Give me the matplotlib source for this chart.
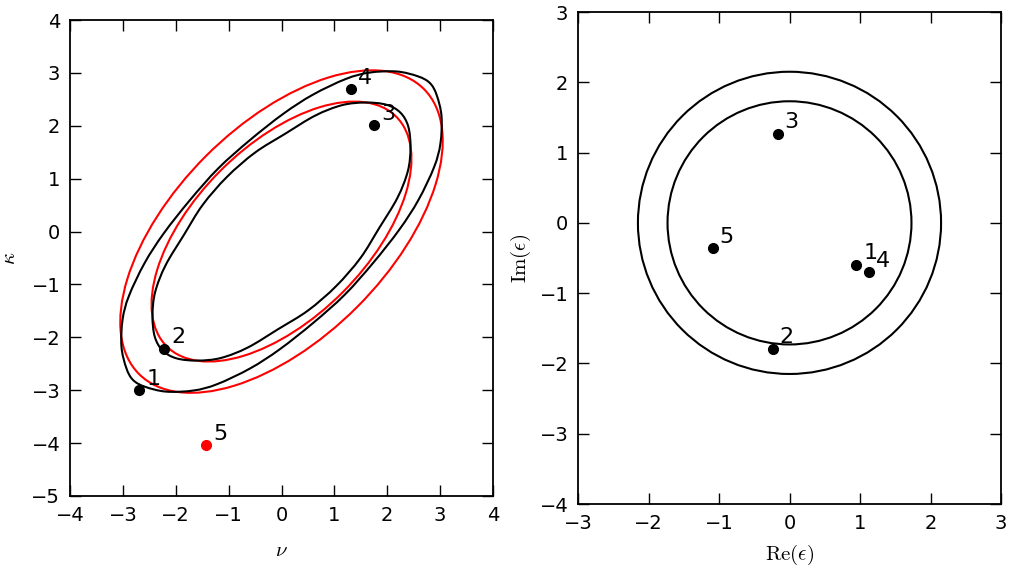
import numpy as np
import matplotlib.pyplot as plt
from matplotlib.patches import Ellipse, Circle, PathPatch
from matplotlib.path import Path
from matplotlib.transforms import Affine2D

plt.rcParams['mathtext.fontset'] = 'cm'
plt.rcParams['font.family'] = ['DejaVu Sans']
plt.rcParams['font.size'] = 14

# ---- left panel: (nu, kappa) plane ----
point_labels = ['1', '2', '3', '4', '5']
nu = [-2.69, -2.22, 1.75, 1.31, -1.43]
kappa = [-3.00, -2.22, 2.01, 2.69, -4.04]
point_colors = ['k', 'k', 'k', 'k', 'r']

# red ellipses, semi-axes along the diagonal / anti-diagonal
ell_major = [3.07, 3.81]
ell_minor = [1.63, 2.02]
tilt = 45

# black contours in the tilted frame
# (along = distance along the diagonal, across = distance across it)
outer_along = [3.97, 3.9, 3.68, 3.3, 2.9, 2.25, 1.6, 0.8, 0, -0.8, -1.6, -2.25, -2.9,
               -3.3, -3.68, -3.9, -3.97, -3.9, -3.68, -3.3, -2.9, -2.25, -1.6, -0.8,
               0, 0.8, 1.6, 2.25, 2.9, 3.3, 3.68, 3.9]
outer_across = [0, 0.25, 0.6, 0.95, 1.18, 1.41, 1.55, 1.645, 1.69, 1.645, 1.55, 1.41, 1.18,
                0.95, 0.6, 0.25, 0, -0.25, -0.6, -0.95, -1.18, -1.41, -1.55, -1.645,
                -1.69, -1.645, -1.55, -1.41, -1.18, -0.95, -0.6, -0.25]
inner_along = [3.18, 3.1, 2.85, 2.5, 2.0, 1.35, 0.7, 0, -0.7, -1.35, -2.0, -2.5, -2.85,
               -3.1, -3.18, -3.1, -2.85, -2.5, -2.0, -1.35, -0.7, 0, 0.7, 1.35, 2.0,
               2.5, 2.85, 3.1]
inner_across = [0, 0.29, 0.6, 0.88, 1.10, 1.26, 1.41, 1.46, 1.41, 1.26, 1.10, 0.88, 0.6,
                0.29, 0, -0.29, -0.6, -0.88, -1.10, -1.26, -1.41, -1.46, -1.41, -1.26,
                -1.10, -0.88, -0.6, -0.29]

# ---- right panel: complex epsilon plane ----
re_eps = [0.95, -0.24, -0.17, 1.13, -1.09]
im_eps = [-0.60, -1.79, 1.265, -0.70, -0.36]
circle_radii = [1.73, 2.15]


def smooth_loop(x, y):
    # closed Catmull-Rom curve through the read points
    pts = np.column_stack([x, y])
    n = len(pts)
    verts = [pts[0]]
    codes = [Path.MOVETO]
    for i in range(n):
        p0, p1, p2, p3 = pts[i - 1], pts[i], pts[(i + 1) % n], pts[(i + 2) % n]
        verts += [p1 + (p2 - p0) / 6, p2 - (p3 - p1) / 6, p2]
        codes += [Path.CURVE4] * 3
    return Path(verts, codes)


def style_axes(ax):
    ax.tick_params(direction='in', top=True, right=True, length=8, width=1, pad=7,
                   labelsize=14)
    for s in ax.spines.values():
        s.set_linewidth(1.3)


fig = plt.figure(figsize=(10.11, 5.73), dpi=100)

ax1 = fig.add_axes([70 / 1011, 77 / 573, 423 / 1011, 476 / 573])
for a, b in zip(ell_major, ell_minor):
    ax1.add_patch(Ellipse((0, 0), 2 * a, 2 * b, angle=tilt, fill=False,
                          edgecolor='r', lw=1.5))
rot = Affine2D().rotate_deg(tilt) + ax1.transData
for us, vs in [(outer_along, outer_across), (inner_along, inner_across)]:
    ax1.add_patch(PathPatch(smooth_loop(us, vs), fill=False, edgecolor='k', lw=1.5,
                            transform=rot))
for x, y, lab, c in zip(nu, kappa, point_labels, point_colors):
    ax1.plot(x, y, 'o', color=c, ms=7, mec=c)
    ax1.annotate(lab, (x, y), xytext=(5, 4), textcoords='offset points', fontsize=16)
ax1.set_xlim(-4, 4)
ax1.set_ylim(-5, 4)
ax1.set_xticks(range(-4, 5))
ax1.set_yticks(range(-5, 5))
ax1.set_xlabel(r'$\nu$', fontsize=15, labelpad=11)
ax1.set_ylabel(r'$\kappa$', fontsize=15, labelpad=9)
style_axes(ax1)

ax2 = fig.add_axes([578 / 1011, 69 / 573, 423 / 1011, 492 / 573])
for r in circle_radii:
    ax2.add_patch(Circle((0, 0), r, fill=False, edgecolor='k', lw=1.5))
for x, y, lab in zip(re_eps, im_eps, point_labels):
    ax2.plot(x, y, 'o', color='k', ms=7)
    ax2.annotate(lab, (x, y), xytext=(5, 4), textcoords='offset points', fontsize=16)
ax2.set_xlim(-3, 3)
ax2.set_ylim(-4, 3)
ax2.set_xticks(range(-3, 4))
ax2.set_yticks(range(-4, 4))
ax2.set_xlabel(r'$\mathrm{Re}(\epsilon)$', fontsize=15, labelpad=7)
ax2.set_ylabel(r'$\mathrm{Im}(\epsilon)$', fontsize=15, labelpad=5)
style_axes(ax2)

fig.savefig('out.png', dpi=100)
